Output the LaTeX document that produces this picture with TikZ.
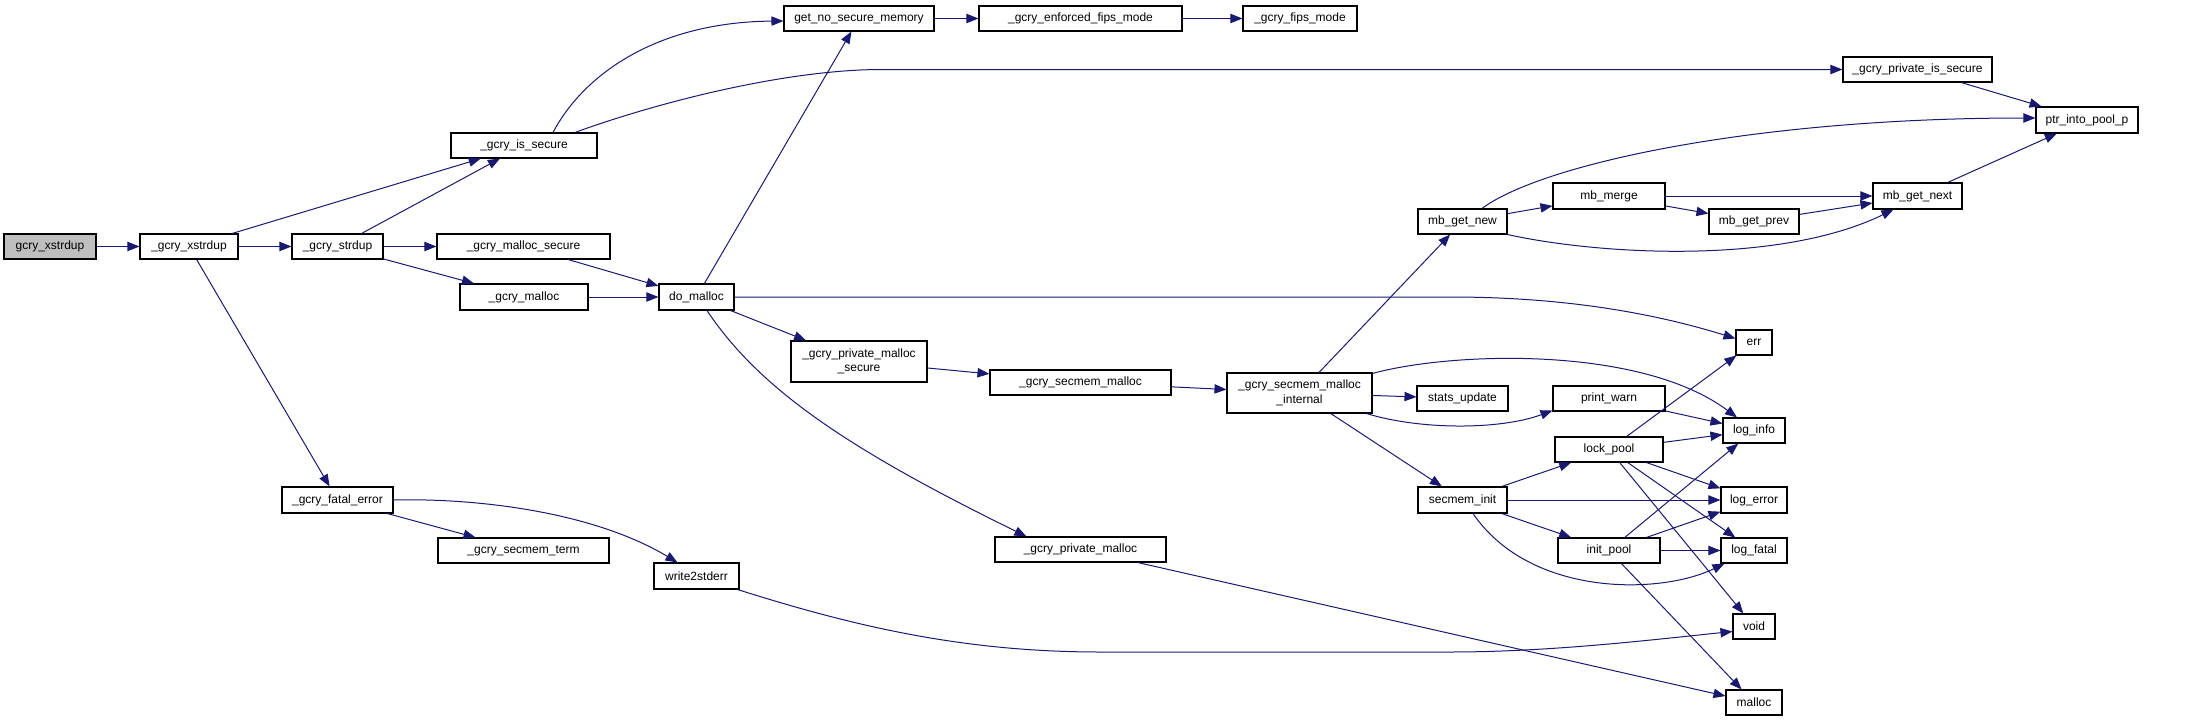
\documentclass[tikz,border=0pt]{standalone}
\usepackage{fontspec}
\setmainfont{Liberation Sans}
\usetikzlibrary{arrows.meta,calc}
\definecolor{edgeblue}{HTML}{191970}
\definecolor{rootgray}{HTML}{BFBFBF}
\tikzset{
  box/.style={draw=black,line width=0.8pt,fill=white,inner sep=0pt,align=center,
    font=\fontsize{9}{11}\selectfont},
  edge/.style={draw=edgeblue,line width=0.75pt,-{Triangle[length=9pt,width=7pt]}}
}
\newcommand\bx[7][]{\node[box,#1,minimum width={(#5-#3)*0.75pt},minimum height={(#6-#4)*0.75pt}] (#2) at ({(#3+#5)/2},{(#4+#6)/2}) {#7};}
\begin{document}
\begin{tikzpicture}[x=0.75pt,y=-0.75pt]
\useasboundingbox (0,0) rectangle (2189,721);
% nodes
\bx[fill=rootgray]{gxs}{4}{234}{96}{259}{gcry\_xstrdup}
\bx{xs}{140}{234}{238}{259}{\_gcry\_xstrdup}
\bx{sd}{292}{234}{383}{259}{\_gcry\_strdup}
\bx{isec}{451}{133}{597}{158}{\_gcry\_is\_secure}
\bx{ms}{437}{234}{610}{259}{\_gcry\_malloc\_secure}
\bx{gm}{460}{284}{588}{310}{\_gcry\_malloc}
\bx{fe}{282}{487}{393}{513}{\_gcry\_fatal\_error}
\bx{st}{438}{538}{609}{563}{\_gcry\_secmem\_term}
\bx{gnsm}{784}{6}{934}{31}{get\_no\_secure\_memory}
\bx{efm}{979}{6}{1182}{31}{\_gcry\_enforced\_fips\_mode}
\bx{fm}{1243}{6}{1357}{31}{\_gcry\_fips\_mode}
\bx{dom}{659}{284}{734}{310}{do\_malloc}
\bx{pms}{791}{341}{927}{382}{\_gcry\_private\_malloc\\\_secure}
\bx{w2s}{654}{563}{739}{589}{write2stderr}
\bx{gpm}{995}{537}{1166}{562}{\_gcry\_private\_malloc}
\bx{gsm}{990}{370}{1171}{395}{\_gcry\_secmem\_malloc}
\bx{smi}{1227}{373}{1372}{413}{\_gcry\_secmem\_malloc\\\_internal}
\bx{su}{1417}{386}{1508}{411}{stats\_update}
\bx{pw}{1553}{386}{1665}{411}{print\_warn}
\bx{lp}{1555}{437}{1663}{462}{lock\_pool}
\bx{si}{1418}{487}{1507}{513}{secmem\_init}
\bx{ip}{1558}{538}{1660}{563}{init\_pool}
\bx{mgn}{1418}{209}{1507}{234}{mb\_get\_new}
\bx{mm}{1553}{183}{1665}{209}{mb\_merge}
\bx{mgp}{1709}{209}{1799}{234}{mb\_get\_prev}
\bx{mgx}{1873}{183}{1962}{209}{mb\_get\_next}
\bx{pis}{1843}{57}{1992}{82}{\_gcry\_private\_is\_secure}
\bx{ptr}{2036}{107}{2138}{133}{ptr\_into\_pool\_p}
\bx{err}{1736}{330}{1772}{355}{err}
\bx{li}{1723}{418}{1785}{443}{log\_info}
\bx{le}{1721}{487}{1787}{513}{log\_error}
\bx{lf}{1721}{538}{1787}{563}{log\_fatal}
\bx{vd}{1733}{614}{1775}{639}{void}
\bx{ml}{1726}{690}{1782}{715}{malloc}
% edges
\draw[edge] (gxs) -- (xs);
\draw[edge] (xs) -- (isec);
\draw[edge] (xs) -- (sd);
\draw[edge] (xs) -- (fe);
\draw[edge] (sd) -- (isec);
\draw[edge] (sd) -- (ms);
\draw[edge] (sd) -- (gm);
\draw[edge] ($(isec.north)+(29,0)$) .. controls (585,72) and (660,22) .. ($(gnsm.west)+(0,2.5)$);
\draw[edge] ($(isec.north)+(51,0)$) .. controls (650,105) and (780,70) .. (880,69.5) -- (pis.west);
\draw[edge] (ms) -- (dom);
\draw[edge] (gm) -- (dom);
\draw[edge] (dom) -- (gnsm);
\draw[edge] (dom.east) -- (1450,297) .. controls (1560,297) and (1650,312) .. ($(err.west)+(0,-4)$);
\draw[edge] (dom) -- (pms);
\draw[edge] ($(dom.south)+(10.5,0)$) .. controls (760,390) and (850,450) .. ($(gpm.north)+(-54,0)$);
\draw[edge] (gnsm) -- (efm);
\draw[edge] (efm) -- (fm);
\draw[edge] (pis) -- (ptr);
\draw[edge] (pms) -- (gsm);
\draw[edge] (gsm) -- (smi);
\draw[edge] (smi) -- (mgn);
\draw[edge] ($(smi.north east)+(0,1)$) .. controls (1450,352) and (1640,345) .. ($(li.north)+(-17,0)$);
\draw[edge] (smi) -- (su);
\draw[edge] ($(smi.south east)+(-6,0)$) .. controls (1420,430) and (1500,430) .. ($(pw.south west)+(0,-1)$);
\draw[edge] (smi) -- (si);
\draw[edge] ($(mgn.north)+(19.5,0)$) .. controls (1540,165) and (1750,118) .. ($(ptr.west)+(0,-2)$);
\draw[edge] (mgn) -- (mm);
\draw[edge] (mgn.south east) .. controls (1600,255) and (1780,265) .. ($(mgx.south)+(-24,0)$);
\draw[edge] (mm) -- (mgx);
\draw[edge] (mm) -- (mgp);
\draw[edge] (mgp) -- (mgx);
\draw[edge] (mgx) -- (ptr);
\draw[edge] (pw) -- (li);
\draw[edge] (lp) -- (err);
\draw[edge] (lp) -- (li);
\draw[edge] (lp) -- (le);
\draw[edge] (lp) -- (lf);
\draw[edge] (lp) -- (vd);
\draw[edge] (si) -- (lp);
\draw[edge] (si) -- (le);
\draw[edge] (si) -- (ip);
\draw[edge] ($(si.south)+(10.5,0)$) .. controls (1530,597) and (1660,595) .. ($(lf.south west)+(4,0)$);
\draw[edge] (ip) -- (li);
\draw[edge] (ip) -- (le);
\draw[edge] (ip) -- (lf);
\draw[edge] (ip) -- (ml);
\draw[edge] (fe) -- (st);
\draw[edge] (fe.east) .. controls (470,498) and (590,510) .. ($(w2s.north)+(-19,0)$);
\draw[edge] ($(w2s.south east)+(-2,0)$) .. controls (850,625) and (960,652) .. (1100,652) -- (1450,652) .. controls (1550,652) and (1650,640) .. ($(vd.west)+(0,5)$);
\draw[edge] (gpm) -- (ml);
\end{tikzpicture}
\end{document}
